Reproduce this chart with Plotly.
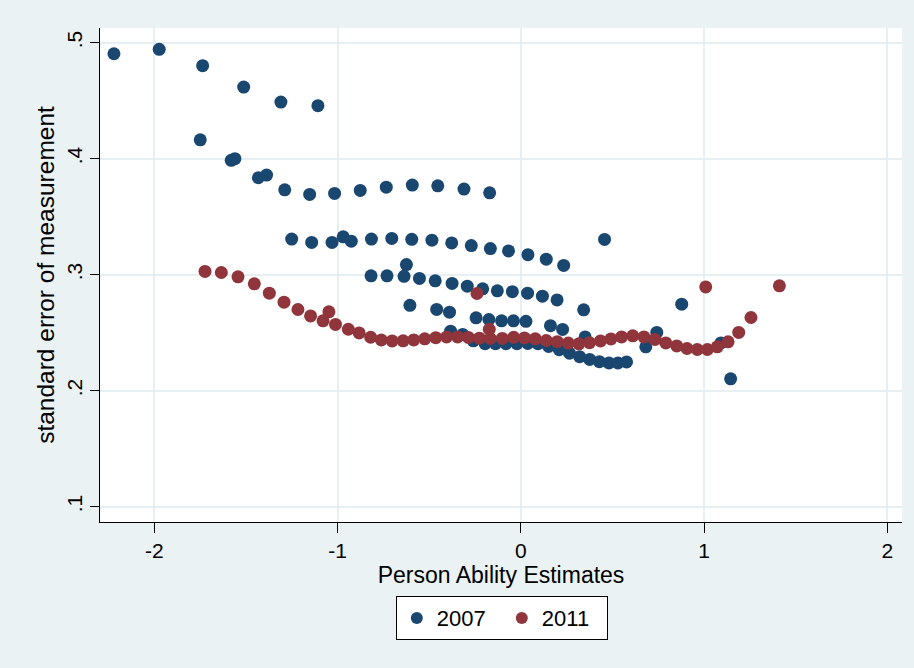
import plotly.graph_objects as go

# Person ability estimates and their standard errors, 2007 administration
ability_2007 = [
    -2.220, -1.973, -1.736, -1.512, -1.309, -1.107,
    -1.749, -1.580, -1.560, -1.432, -1.387, -1.288, -1.152, -1.016, -0.876,
    -0.734, -0.592, -0.453, -0.310, -0.170,
    -1.250, -1.141, -1.030, -0.969, -0.925, -0.815, -0.704, -0.595, -0.485,
    -0.377, -0.270, -0.166, -0.067, 0.039, 0.139, 0.234, 0.457, -0.624,
    -0.817, -0.730, -0.637, -0.553, -0.467, -0.375, -0.292, -0.208, -0.128,
    -0.046, 0.037, 0.118, 0.198, 0.343, 0.878,
    -0.605, -0.459, -0.389, -0.244, -0.174, -0.105, -0.040, 0.028, 0.162,
    0.228, 0.351, 0.742, 0.682, 1.145, 1.092,
    -0.383, -0.317, -0.259, -0.195, -0.138, -0.081, -0.021, 0.038, 0.094,
    0.152, 0.210, 0.266, 0.321, 0.376, 0.429, 0.481, 0.530, 0.577,
]
sem_2007 = [
    0.4905, 0.4943, 0.4802, 0.4618, 0.4488, 0.4457,
    0.4163, 0.3986, 0.4000, 0.3836, 0.3859, 0.3732, 0.3692, 0.3701, 0.3727,
    0.3755, 0.3773, 0.3766, 0.3738, 0.3706,
    0.3307, 0.3278, 0.3278, 0.3327, 0.3289, 0.3307, 0.3313, 0.3305, 0.3298,
    0.3274, 0.3251, 0.3225, 0.3205, 0.3173, 0.3134, 0.3080, 0.3304, 0.3087,
    0.2990, 0.2990, 0.2986, 0.2968, 0.2947, 0.2925, 0.2901, 0.2878, 0.2861,
    0.2854, 0.2841, 0.2815, 0.2783, 0.2697, 0.2746,
    0.2736, 0.2701, 0.2677, 0.2628, 0.2614, 0.2602, 0.2602, 0.2598, 0.2561,
    0.2528, 0.2464, 0.2502, 0.2378, 0.2102, 0.2412,
    0.2513, 0.2485, 0.2430, 0.2405, 0.2405, 0.2405, 0.2405, 0.2407, 0.2405,
    0.2381, 0.2354, 0.2323, 0.2293, 0.2270, 0.2250, 0.2239, 0.2239, 0.2248,
]

# Person ability estimates and their standard errors, 2011 administration
ability_2011 = [
    -1.723, -1.634, -1.543, -1.454, -1.372, -1.292, -1.216, -1.147, -1.047,
    -1.079, -1.011, -0.941, -0.882, -0.819, -0.761, -0.702, -0.642, -0.584,
    -0.524, -0.464, -0.405, -0.345, -0.286, -0.226, -0.166, -0.101, -0.039,
    0.020, 0.079, 0.139, 0.199, 0.259, 0.317, 0.375, 0.435, 0.492, 0.550,
    0.611, 0.672, 0.732, 0.791, 0.851, 0.907, 0.963, 1.018, 1.072, 1.131,
    1.189, 1.256, 1.009, 1.411, -0.239, -0.172,
]
sem_2011 = [
    0.3028, 0.3019, 0.2982, 0.2921, 0.2841, 0.2763, 0.2700, 0.2645, 0.2680,
    0.2602, 0.2571, 0.2530, 0.2498, 0.2461, 0.2437, 0.2429, 0.2430, 0.2438,
    0.2447, 0.2457, 0.2463, 0.2464, 0.2459, 0.2453, 0.2450, 0.2451, 0.2460,
    0.2455, 0.2447, 0.2433, 0.2423, 0.2411, 0.2404, 0.2414, 0.2429, 0.2446,
    0.2464, 0.2473, 0.2464, 0.2442, 0.2412, 0.2386, 0.2364, 0.2355, 0.2355,
    0.2378, 0.2421, 0.2502, 0.2631, 0.2895, 0.2904, 0.2838, 0.2530,
]

x_ticks = [-2, -1, 0, 1, 2]
x_tick_labels = ["-2", "-1", "0", "1", "2"]
y_ticks = [0.1, 0.2, 0.3, 0.4, 0.5]
y_tick_labels = [".1", ".2", ".3", ".4", ".5"]

NAVY = "#1a476f"
MAROON = "#90353b"
BG = "#eaf2f3"
GRID = "#e6eff1"
FONT = "Liberation Sans, Arial, sans-serif"

fig = go.Figure()
fig.add_trace(go.Scatter(
    x=ability_2007, y=sem_2007, mode="markers", name="2007",
    marker=dict(color=NAVY, size=13, line=dict(width=0)),
))
fig.add_trace(go.Scatter(
    x=ability_2011, y=sem_2011, mode="markers", name="2011",
    marker=dict(color=MAROON, size=13, line=dict(width=0)),
))

fig.update_layout(
    width=914, height=668,
    margin=dict(l=100, r=12, t=28, b=146),
    paper_bgcolor=BG, plot_bgcolor="white",
    font=dict(family=FONT, color="black"),
    showlegend=True,
    legend=dict(
        orientation="h", x=0.501, xanchor="center", y=-0.15, yanchor="top",
        bgcolor="white", bordercolor="black", borderwidth=1,
        font=dict(size=22, family=FONT), itemsizing="constant",
        entrywidth=60, entrywidthmode="pixels",
    ),
)
fig.update_xaxes(
    range=[-2.296, 2.080], tickvals=x_ticks, ticktext=x_tick_labels,
    showgrid=True, gridcolor=GRID, gridwidth=1.5, zeroline=False,
    showline=True, linecolor="black", linewidth=1,
    ticks="outside", ticklen=10, tickcolor="black",
    tickfont=dict(size=21),
    title=dict(text="Person Ability Estimates", font=dict(size=23), standoff=4),
)
fig.update_yaxes(
    range=[0.0868, 0.5127], tickvals=y_ticks, ticktext=y_tick_labels,
    showgrid=True, gridcolor=GRID, gridwidth=1.5, zeroline=False,
    showline=True, linecolor="black", linewidth=1,
    ticks="outside", ticklen=9, tickcolor="black",
    tickangle=-90, tickfont=dict(size=21),
    title=dict(text="standard error of measurement", font=dict(size=24.5), standoff=1),
)

fig.write_html("out.html")
